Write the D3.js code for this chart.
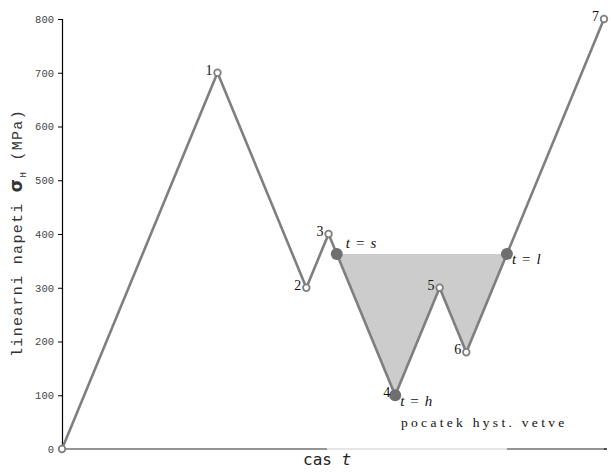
<!DOCTYPE html>
<html>
<head>
<meta charset="utf-8">
<script src="https://cdn.jsdelivr.net/npm/d3@7/dist/d3.min.js"></script>
<style>
  html, body { margin: 0; padding: 0; background: #fff; }
  svg { display: block; }
</style>
</head>
<body>
<svg id="chart" width="611" height="472"></svg>
<script>
// Load history: turning points of the stress signal (time, stress in MPa)
const pointLabels = ["", "1", "2", "3", "4", "5", "6", "7"];
const times = [0, 700, 1100, 1200, 1500, 1700, 1820, 2440];
const stresses = [0, 700, 300, 400, 100, 300, 180, 800];

// Hysteresis branch markers: s (start), h (reversal), l (closure)
const branchLevel = 363;
const branchNames = ["s", "h", "l"];
const branchTimes = [1237, 1500, 2003];
const branchStresses = [branchLevel, 100, branchLevel];

const yTicks = [0, 100, 200, 300, 400, 500, 600, 700, 800];

const svg = d3.select("#chart");
const lineColor = "#7f7f7f";

const x = d3.scaleLinear().domain([0, 2440]).range([62, 604]);
const y = d3.scaleLinear().domain([0, 800]).range([449, 19]);

const pts = times.map((t, i) => ({ t, s: stresses[i], label: pointLabels[i] }));
const bpts = branchTimes.map((t, i) => ({ t, s: branchStresses[i], name: branchNames[i] }));

// Shaded hysteresis loop: s -> 4 -> 5 -> 6 -> l
const loop = [bpts[0], pts[4], pts[5], pts[6], bpts[2]];
svg.append("path")
  .attr("d", d3.line().x(d => x(d.t)).y(d => y(d.s))(loop) + "Z")
  .attr("fill", "#cccccc")
  .attr("stroke", "none");

// Time axis baseline
const baseY = y(0);
svg.append("line").attr("x1", x(0)).attr("x2", 327).attr("y1", baseY).attr("y2", baseY)
  .attr("stroke", "#707070").attr("stroke-width", 1.3);
svg.append("line").attr("x1", 327).attr("x2", x(2003)).attr("y1", baseY).attr("y2", baseY)
  .attr("stroke", "#dddddd").attr("stroke-width", 1.3);
svg.append("line").attr("x1", x(2003)).attr("x2", 605).attr("y1", baseY).attr("y2", baseY)
  .attr("stroke", "#707070").attr("stroke-width", 1.3);
svg.append("line").attr("x1", 604).attr("x2", 607).attr("y1", baseY).attr("y2", baseY)
  .attr("stroke", "#222").attr("stroke-width", 1.5);

// Stress axis
const yAxis = svg.append("g")
  .attr("transform", `translate(${x(0)},0)`)
  .call(d3.axisLeft(y).tickValues(yTicks).tickSize(4).tickPadding(4).tickFormat(d3.format("d")));
yAxis.select(".domain").attr("stroke", "#000").attr("stroke-width", 1.2);
yAxis.selectAll(".tick line").attr("stroke", "#000");
yAxis.selectAll(".tick text")
  .attr("font-family", "'Liberation Mono', 'DejaVu Sans Mono', monospace")
  .attr("font-size", 10.5)
  .attr("fill", "#444");

// Stress path
svg.append("path")
  .attr("d", d3.line().x(d => x(d.t)).y(d => y(d.s))(pts))
  .attr("fill", "none")
  .attr("stroke", lineColor)
  .attr("stroke-width", 2.6)
  .attr("stroke-linejoin", "miter");

// Turning-point markers
svg.selectAll("circle.tp").data(pts).join("circle")
  .attr("class", "tp")
  .attr("cx", d => x(d.t)).attr("cy", d => y(d.s)).attr("r", 3.3)
  .attr("fill", "#fff").attr("stroke", lineColor).attr("stroke-width", 1.8);

// Branch markers
svg.selectAll("circle.br").data(bpts).join("circle")
  .attr("class", "br")
  .attr("cx", d => x(d.t)).attr("cy", d => y(d.s)).attr("r", 6)
  .attr("fill", "#6f6f6f");

// Turning-point numbers
const serif = "'Liberation Serif', 'DejaVu Serif', serif";
svg.selectAll("text.num").data(pts.filter(d => d.label)).join("text")
  .attr("class", "num")
  .attr("x", d => x(d.t) - 5).attr("y", d => y(d.s) + 2)
  .attr("text-anchor", "end")
  .attr("font-family", serif)
  .attr("font-size", 14)
  .attr("fill", "#111")
  .text(d => d.label);

// Branch labels "t = s", "t = h", "t = l"
const branchOffsets = { s: [9, -6], h: [5, 11], l: [5, 10] };
bpts.forEach(d => {
  const [dx, dy] = branchOffsets[d.name];
  const t = svg.append("text")
    .attr("x", x(d.t) + dx).attr("y", y(d.s) + dy)
    .attr("font-family", serif)
    .attr("font-size", 15)
    .attr("fill", "#111");
  t.append("tspan").attr("font-style", "italic").text("t");
  t.append("tspan").attr("dx", 6).text("=");
  t.append("tspan").attr("dx", 6).attr("font-style", "italic").text(d.name);
});

svg.append("text")
  .attr("x", 401).attr("y", 427)
  .attr("font-family", serif)
  .attr("font-size", 13.5)
  .attr("letter-spacing", 3.3)
  .attr("fill", "#111")
  .text("pocatek hyst. vetve");

// Axis titles
const xt = svg.append("text")
  .attr("x", 303).attr("y", 465)
  .attr("font-family", "'DejaVu Sans Mono', monospace")
  .attr("font-size", 16)
  .attr("fill", "#222");
xt.append("tspan").text("cas ");
xt.append("tspan").attr("font-style", "italic").text("t");

const yt = svg.append("text")
  .attr("transform", "translate(22,233) rotate(-90)")
  .attr("text-anchor", "middle")
  .attr("font-family", "'Liberation Mono', 'DejaVu Sans Mono', monospace")
  .attr("font-size", 15)
  .attr("letter-spacing", 1.3)
  .attr("fill", "#333");
yt.append("tspan").text("linearni napeti ");
yt.append("tspan").attr("font-size", 17).attr("font-weight", "bold").attr("font-family", "'DejaVu Sans', sans-serif").text("σ");
yt.append("tspan").attr("font-size", 9).attr("dy", 4).text("H");
yt.append("tspan").attr("dy", -4).text(" (MPa)");
</script>
</body>
</html>
